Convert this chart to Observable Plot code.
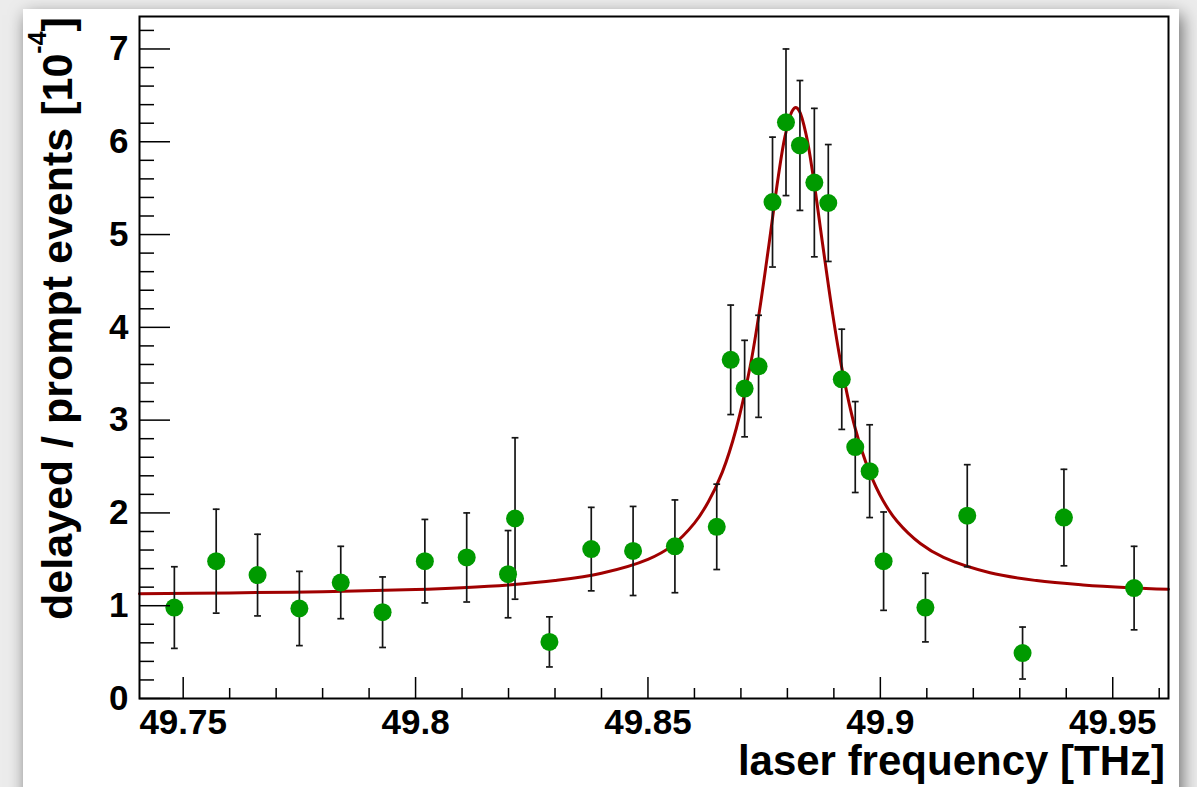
<!DOCTYPE html>
<html>
<head>
<meta charset="utf-8">
<script src="https://cdn.jsdelivr.net/npm/d3@7"></script>
<script src="https://cdn.jsdelivr.net/npm/@observablehq/plot@0.6"></script>
<style>
  html, body { margin: 0; padding: 0; }
  body {
    width: 1197px; height: 787px; overflow: hidden; position: relative;
    background: #ececec;
    font-family: "Liberation Sans", Arial, Helvetica, sans-serif;
  }
  #pad {
    position: absolute; left: 23px; top: 9px; width: 1156px; height: 820px;
    background: #ffffff;
    box-shadow: 3px 6px 16px rgba(0, 0, 0, 0.55);
  }
  #chart { position: absolute; left: 0; top: 0; }
</style>
</head>
<body>
<div id="pad"></div>
<div id="chart"></div>
<script>
// Measured delayed/prompt event ratio (units of 1e-4) vs. laser frequency (THz)
const freq = [49.7481, 49.7571, 49.7660, 49.7750, 49.7839, 49.7929, 49.8020, 49.8110,
              49.8199, 49.8214, 49.8288, 49.8378, 49.8468, 49.8558, 49.8648, 49.8678,
              49.8708, 49.8738, 49.8768, 49.8797, 49.8827, 49.8858, 49.8888, 49.8917,
              49.8946, 49.8977, 49.9007, 49.9097, 49.9187, 49.9306, 49.9395, 49.9546];
const ratio = [0.98, 1.48, 1.33, 0.97, 1.25, 0.93, 1.48, 1.52,
               1.34, 1.94, 0.61, 1.61, 1.59, 1.64, 1.85, 3.65,
               3.34, 3.58, 5.35, 6.21, 5.96, 5.56, 5.34, 3.44,
               2.71, 2.45, 1.48, 0.98, 1.97, 0.49, 1.95, 1.19];
const ratioErr = [0.44, 0.56, 0.44, 0.40, 0.39, 0.38, 0.45, 0.48,
                  0.47, 0.87, 0.27, 0.45, 0.48, 0.50, 0.46, 0.59,
                  0.52, 0.55, 0.70, 0.79, 0.70, 0.80, 0.63, 0.54,
                  0.49, 0.50, 0.53, 0.37, 0.55, 0.28, 0.52, 0.45];

// Resonance fit curve (Lorentzian on a flat background), sampled along the drawn line
const fitFreq = [49.7406, 49.76, 49.78, 49.80, 49.81, 49.82, 49.83, 49.84, 49.85, 49.855,
                 49.86, 49.863, 49.866, 49.869, 49.872, 49.874, 49.876, 49.878, 49.8795,
                 49.881, 49.8818, 49.8826, 49.8841, 49.8856, 49.8876, 49.8896, 49.8916,
                 49.8946, 49.8976, 49.9006, 49.9036, 49.9086, 49.9136, 49.9236, 49.9336,
                 49.9436, 49.9536, 49.962];
const fitRatio = [1.130, 1.138, 1.151, 1.174, 1.194, 1.224, 1.271, 1.350, 1.50, 1.64,
                  1.89, 2.12, 2.44, 2.91, 3.58, 4.18, 4.88, 5.61, 6.06,
                  6.33, 6.37, 6.33, 6.06, 5.61, 4.89, 4.19, 3.59,
                  2.91, 2.45, 2.13, 1.91, 1.67, 1.52, 1.355, 1.271,
                  1.224, 1.194, 1.177];

// Axis ticks and their labels
const xTicks = [49.75, 49.8, 49.85, 49.9, 49.95];
const xTickLabels = ["49.75", "49.8", "49.85", "49.9", "49.95"];
const xMinorTicks = [49.76, 49.77, 49.78, 49.79, 49.81, 49.82, 49.83, 49.84,
                     49.86, 49.87, 49.88, 49.89, 49.91, 49.92, 49.93, 49.94, 49.96];
const yTicks = [0, 1, 2, 3, 4, 5, 6, 7];
const yTickLabels = ["0", "1", "2", "3", "4", "5", "6", "7"];
const yMinorTicks = [0.2, 0.4, 0.6, 0.8, 1.2, 1.4, 1.6, 1.8, 2.2, 2.4, 2.6, 2.8,
                     3.2, 3.4, 3.6, 3.8, 4.2, 4.4, 4.6, 4.8, 5.2, 5.4, 5.6, 5.8,
                     6.2, 6.4, 6.6, 6.8, 7.2];

const xTitle = "laser frequency [THz]";
const yTitle = "delayed / prompt events [10";
const yTitleExp = "-4";

const points = freq.map((f, i) => ({f, v: ratio[i], e: ratioErr[i]}));
const fit = fitFreq.map((f, i) => ({f, v: fitRatio[i]}));

// Short horizontal bar used as the error-bar end cap
const capSymbol = {
  draw(context, size) {
    const w = Math.sqrt(size / Math.PI);
    context.moveTo(-w, 0);
    context.lineTo(w, 0);
  }
};

const W = 1197, H = 787;
const mL = 139, mR = 29, mT = 16, mB = 89;

const chart = Plot.plot({
  width: W,
  height: H,
  marginLeft: mL,
  marginRight: mR,
  marginTop: mT,
  marginBottom: mB,
  style: {background: "transparent", fontFamily: "'Liberation Sans', Arial, Helvetica, sans-serif", color: "#000"},
  x: {domain: [49.7406, 49.962]},
  y: {domain: [0, 7.35]},
  marks: [
    Plot.line(fit, {x: "f", y: "v", stroke: "#a00000", strokeWidth: 3, curve: "catmull-rom"}),
    Plot.ruleX(points, {x: "f", y1: d => d.v - d.e, y2: d => d.v + d.e, stroke: "#151515", strokeWidth: 1.7}),
    Plot.dot(points, {x: "f", y: d => d.v + d.e, symbol: capSymbol, r: 3.4, stroke: "#151515", strokeWidth: 1.7, fill: "none"}),
    Plot.dot(points, {x: "f", y: d => d.v - d.e, symbol: capSymbol, r: 3.4, stroke: "#151515", strokeWidth: 1.7, fill: "none"}),
    Plot.dot(points, {x: "f", y: "v", r: 9, fill: "#009a00", stroke: "none"}),
    // inward ticks, ROOT style
    Plot.axisX(xMinorTicks, {anchor: "bottom", tickSize: -10, text: null, label: null, strokeWidth: 1.5}),
    Plot.axisX(xTicks, {anchor: "bottom", tickSize: -21, text: null, label: null, strokeWidth: 1.5}),
    Plot.axisX(xTicks, {anchor: "bottom", tickSize: 0, tickPadding: 11, label: null, fontSize: 35, fontWeight: "bold",
                        tickFormat: d => xTickLabels[xTicks.indexOf(d)]}),
    Plot.axisY(yMinorTicks, {anchor: "left", tickSize: -15, text: null, label: null, strokeWidth: 1.5}),
    Plot.axisY(yTicks, {anchor: "left", tickSize: -31, text: null, label: null, strokeWidth: 1.5}),
    Plot.axisY(yTicks, {anchor: "left", tickSize: 0, tickPadding: 11, label: null, fontSize: 35, fontWeight: "bold",
                        tickFormat: d => yTickLabels[yTicks.indexOf(d)]}),
    Plot.frame({stroke: "#000", strokeWidth: 2})
  ]
});

// Axis titles
const svg = d3.select(chart);
svg.append("text")
  .attr("x", W - mR - 3)
  .attr("y", 775)
  .attr("text-anchor", "end")
  .attr("font-size", 42)
  .attr("font-weight", "bold")
  .attr("fill", "#000")
  .text(xTitle);

const yt = svg.append("text")
  .attr("transform", "translate(71.5,620) rotate(-90)")
  .attr("text-anchor", "start")
  .attr("font-size", 43)
  .attr("font-weight", "bold")
  .attr("fill", "#000");
yt.append("tspan").text(yTitle);
yt.append("tspan").attr("font-size", 25).attr("dy", -26).text(yTitleExp);
yt.append("tspan").attr("dy", 26).text("]");

document.getElementById("chart").appendChild(chart);
</script>
</body>
</html>
